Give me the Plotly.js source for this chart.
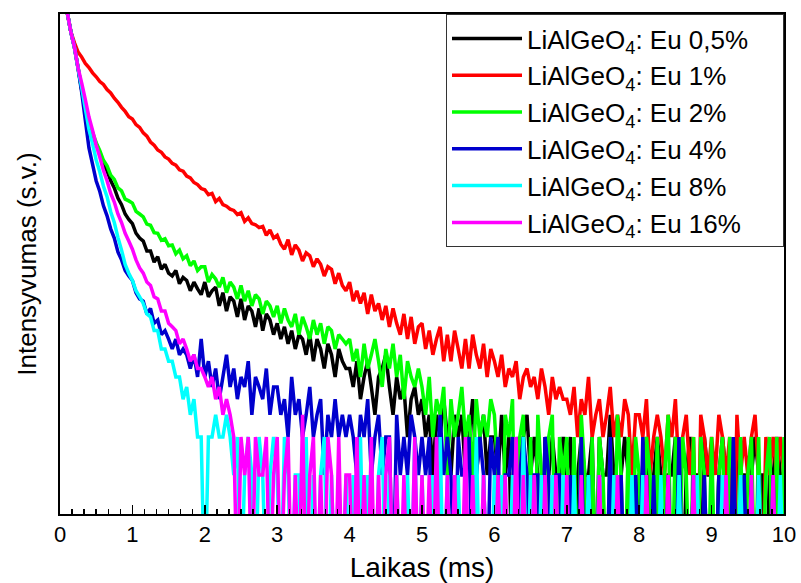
<!DOCTYPE html>
<html><head><meta charset="utf-8">
<script src="https://cdn.plot.ly/plotly-3.0.1.min.js"></script>
<style>body{margin:0;background:#fff}</style>
</head><body>
<div id="chart" style="width:801px;height:583px"></div>
<script>
// time channels (ms)
const timeMs = [
0,0.05,0.1,0.15,0.2,0.25,0.3,0.35,0.4,0.45,0.5,0.55,0.6,0.65,0.7,0.75,0.8,0.85,0.9,0.95,
1,1.05,1.1,1.15,1.2,1.25,1.3,1.35,1.4,1.45,1.5,1.55,1.6,1.65,1.7,1.75,1.8,1.85,1.9,1.95,
2,2.05,2.1,2.15,2.2,2.25,2.3,2.35,2.4,2.45,2.5,2.55,2.6,2.65,2.7,2.75,2.8,2.85,2.9,2.95,
3,3.05,3.1,3.15,3.2,3.25,3.3,3.35,3.4,3.45,3.5,3.55,3.6,3.65,3.7,3.75,3.8,3.85,3.9,3.95,
4,4.05,4.1,4.15,4.2,4.25,4.3,4.35,4.4,4.45,4.5,4.55,4.6,4.65,4.7,4.75,4.8,4.85,4.9,4.95,
5,5.05,5.1,5.15,5.2,5.25,5.3,5.35,5.4,5.45,5.5,5.55,5.6,5.65,5.7,5.75,5.8,5.85,5.9,5.95,
6,6.05,6.1,6.15,6.2,6.25,6.3,6.35,6.4,6.45,6.5,6.55,6.6,6.65,6.7,6.75,6.8,6.85,6.9,6.95,
7,7.05,7.1,7.15,7.2,7.25,7.3,7.35,7.4,7.45,7.5,7.55,7.6,7.65,7.7,7.75,7.8,7.85,7.9,7.95,
8,8.05,8.1,8.15,8.2,8.25,8.3,8.35,8.4,8.45,8.5,8.55,8.6,8.65,8.7,8.75,8.8,8.85,8.9,8.95,
9,9.05,9.1,9.15,9.2,9.25,9.3,9.35,9.4,9.45,9.5,9.55,9.6,9.65,9.7,9.75,9.8,9.85,9.9,9.95,
10];

const seriesNames = [
  'LiAlGeO<sub>4</sub>: Eu 0,5%',
  'LiAlGeO<sub>4</sub>: Eu 1%',
  'LiAlGeO<sub>4</sub>: Eu 2%',
  'LiAlGeO<sub>4</sub>: Eu 4%',
  'LiAlGeO<sub>4</sub>: Eu 8%',
  'LiAlGeO<sub>4</sub>: Eu 16%'
];

// intensity (counts)
const eu05 = [
12000,7500,4700,3300,2480,1700,1140,790,610,495,425,365,295,258,218,190,158,140,118,107,
99,83,76,72,60,60,49,54,43,47,40,38,42,33,37,35,29,34,30,27,
34,26,29,31,22,28,20,26,24,18,25,17,22,20,15,21,14,19,17,13,
16,12,15,11,14,10,13,12,9,13,8,12,10,7,11,9,6,10,8,7,
7,5,8,4,6,8,5,3,6,7,9,5,3,6,4,5,2,4,5,3,
4,2,3,1,3,2,4,2,1,3,2,3,1,2,4,1,2,3,1,2,
2,1,3,1,2,0,2,1,2,3,1,2,1,0,2,1,2,1,1,2,
1,2,0,1,2,1,1,2,0,2,1,1,3,1,0,1,2,1,1,0,
1,1,2,0,1,2,1,0,1,1,2,1,0,1,2,1,1,0,2,1,
1,0,1,2,1,1,0,2,1,1,0,1,2,1,1,0,1,1,2,1,
1];
const eu1 = [
12000,7500,4700,3300,2700,2280,2080,1850,1720,1560,1450,1330,1260,1150,1080,980,910,830,770,700,
670,605,575,520,490,440,415,380,365,335,322,298,288,265,258,236,228,210,202,188,
184,168,172,148,157,140,136,129,126,117,121,103,110,99,97,92,94,80,88,76,
80,68,62,74,56,67,61,50,58,55,45,52,47,38,45,43,33,40,32,29,
34,24,29,23,28,19,27,20,23,17,22,15,21,16,13,19,12,18,11,15,
16,10,14,9,12,15,8,13,8,14,10,7,12,7,13,9,7,11,6,10,
8,6,9,5,7,6,8,4,6,7,5,6,4,7,5,3,6,4,5,4,
4,3,5,2,4,3,6,2,3,4,2,3,5,2,3,2,4,3,1,3,
3,2,4,1,2,3,2,1,3,2,4,1,2,3,1,2,0,3,2,1,
2,1,3,2,1,2,0,3,1,2,1,2,3,1,0,2,1,2,1,2,
1];
const eu2 = [
12000,7500,4700,3300,2480,1720,1140,840,630,525,435,375,315,285,240,222,190,180,155,150,
144,124,118,112,98,96,84,83,73,75,66,67,57,61,52,55,46,50,42,45,
45,34,39,36,31,37,28,34,31,25,32,24,29,22,27,25,19,24,22,18,
22,16,21,17,15,19,13,18,15,12,17,13,16,11,15,14,10,13,12,11,
12,8,10,6,11,7,9,12,8,5,10,7,11,6,9,4,8,6,5,7,
5,3,6,2,4,3,5,1,4,2,3,5,2,3,1,4,2,3,2,4,
3,1,0,3,2,4,0,2,3,0,2,0,3,1,0,2,3,0,2,1,
2,0,2,0,3,1,0,2,0,2,1,0,2,0,3,1,0,2,0,2,
1,0,2,1,0,2,0,1,3,0,2,0,2,1,0,2,0,2,1,0,
2,0,1,2,0,2,1,0,2,0,1,2,0,2,0,1,2,0,2,0,
2];
const eu4 = [
12000,7500,4700,3300,2470,1680,1090,655,395,292,216,178,137,114,90,76,59,51,42,38,
35,28,25,24,19,21,16,17,13,14,12,10,12,9,10,9,7,9,6,12,
6,8,5,7,4,6,9,5,7,4,6,5,8,3,6,5,4,7,3,5,
5,3,4,2,6,3,4,2,3,5,2,3,4,1,3,2,4,2,3,2,
3,2,1,3,2,4,1,2,3,1,2,2,0,3,1,2,1,3,2,1,
2,1,2,0,1,3,1,2,1,0,2,1,1,2,0,1,2,1,0,2,
1,2,0,1,1,2,0,1,2,1,0,1,1,0,2,1,0,1,1,0,
0,1,0,0,2,0,1,0,0,1,0,0,2,0,0,1,0,0,0,1,
0,2,0,0,1,0,0,0,1,0,0,2,0,0,0,1,0,0,1,0,
0,0,1,0,0,0,2,0,0,1,0,0,0,1,0,0,0,1,0,0,
0];
const eu8 = [
12000,7500,4700,3300,2470,1690,1190,805,555,425,316,254,196,162,123,101,77,61,47,40,
35,29,26,23,19,18,14,14,10,10,8,8,6,6,4,5,3,4,2,2,
0,2,2,3,2,2,3,2,1,2,0,1,2,1,0,2,1,0,1,2,
1,0,2,1,0,1,1,0,2,0,1,0,1,2,0,1,0,1,0,1,
0,1,0,2,0,1,0,0,1,2,0,1,0,1,0,0,1,0,2,0,
1,0,0,1,0,2,0,1,0,0,1,0,1,0,0,2,0,1,0,0,
1,0,1,0,0,1,0,0,2,0,1,0,0,1,0,0,1,0,0,1,
0,0,1,0,0,0,1,0,0,1,0,0,0,1,0,0,0,0,1,0,
0,1,0,0,0,0,1,0,0,0,0,1,0,0,0,0,1,0,0,0,
0,0,0,1,0,0,0,0,1,0,0,0,0,1,0,0,0,0,0,1,
0];
const eu16 = [
12000,7500,4700,3300,2480,1710,1290,955,695,545,415,333,262,217,172,147,118,101,83,72,
62,51,44,40,34,32,26,25,20,20,16,15,14,11,12,10,8,9,7,7,
6,5,6,4,5,3,4,3,2,0,2,1,2,0,2,1,1,2,0,1,
2,0,1,2,0,1,0,3,0,1,2,0,1,0,2,1,0,2,0,1,
1,0,2,0,1,0,2,0,1,0,1,2,0,1,0,1,0,0,2,0,
1,0,1,0,2,0,0,1,0,1,0,0,2,0,1,0,0,1,0,0,
0,1,0,1,0,0,2,0,1,0,0,1,0,0,1,0,0,1,0,0,
1,0,0,0,1,0,0,0,0,1,0,0,0,0,1,0,0,0,0,0,
0,0,1,0,0,0,0,0,1,0,0,0,0,0,0,1,0,0,0,0,
0,0,0,0,1,0,0,0,0,0,0,1,0,0,0,0,0,1,0,0,
0];

const seriesData = [eu05, eu1, eu2, eu4, eu8, eu16];
const seriesColors = ['#000000', '#ff0000', '#00ff00', '#0000cd', '#00ffff', '#ff00ff'];
const ZERO_FLOOR = 0.1; // zero counts are drawn below the log axis, as in the original
const toPlot = arr => arr.map(v => (v > 0 ? v : ZERO_FLOOR));
const LEGEND_PAD = '\u00a0\u00a0\u00a0\u00a0';

const traces = seriesData.map((d, i) => ({
  x: timeMs,
  y: toPlot(d),
  type: 'scatter',
  mode: 'lines',
  name: seriesNames[i] + LEGEND_PAD,
  line: {color: seriesColors[i], width: 3.5, simplify: false},
  hoverinfo: 'skip'
}));

const FONT = 'Liberation Sans, Arial, Helvetica, sans-serif';
const layout = {
  width: 801, height: 583,
  margin: {l: 60, r: 17, t: 14, b: 69, pad: 0},
  paper_bgcolor: '#ffffff', plot_bgcolor: '#ffffff',
  font: {family: FONT, color: '#000000'},
  showlegend: true,
  legend: {
    x: 1.0, xanchor: 'right', y: 1.0, yanchor: 'top',
    bgcolor: '#ffffff', bordercolor: '#333333', borderwidth: 1,
    font: {family: FONT, size: 26, color: '#000000'},
    itemwidth: 70, tracegroupgap: 0
  },
  xaxis: {
    range: [0, 10], dtick: 1, tick0: 0,
    showline: true, linecolor: '#000000', linewidth: 2, mirror: true,
    ticks: 'inside', ticklen: 9, tickwidth: 1.5, tickcolor: '#000000',
    minor: {dtick: 1/6, tick0: 0, ticks: 'inside', ticklen: 5, tickwidth: 1.5, tickcolor: '#000000', showgrid: false},
    showgrid: false, zeroline: false,
    tickfont: {family: FONT, size: 22, color: '#000000'},
    title: {text: 'Laikas (ms)', font: {family: FONT, size: 28, color: '#000000'}, standoff: 12}
  },
  yaxis: {
    type: 'log', range: [-0.31, 3.66],
    showline: true, linecolor: '#000000', linewidth: 2, mirror: true,
    ticks: '', showticklabels: false, showgrid: false, zeroline: false,
    title: {text: 'Intensyvumas (s.v.)', font: {family: FONT, size: 26, color: '#000000'}, standoff: 14}
  }
};

Plotly.newPlot('chart', traces, layout, {displayModeBar: false, staticPlot: true});
</script>
</body></html>
